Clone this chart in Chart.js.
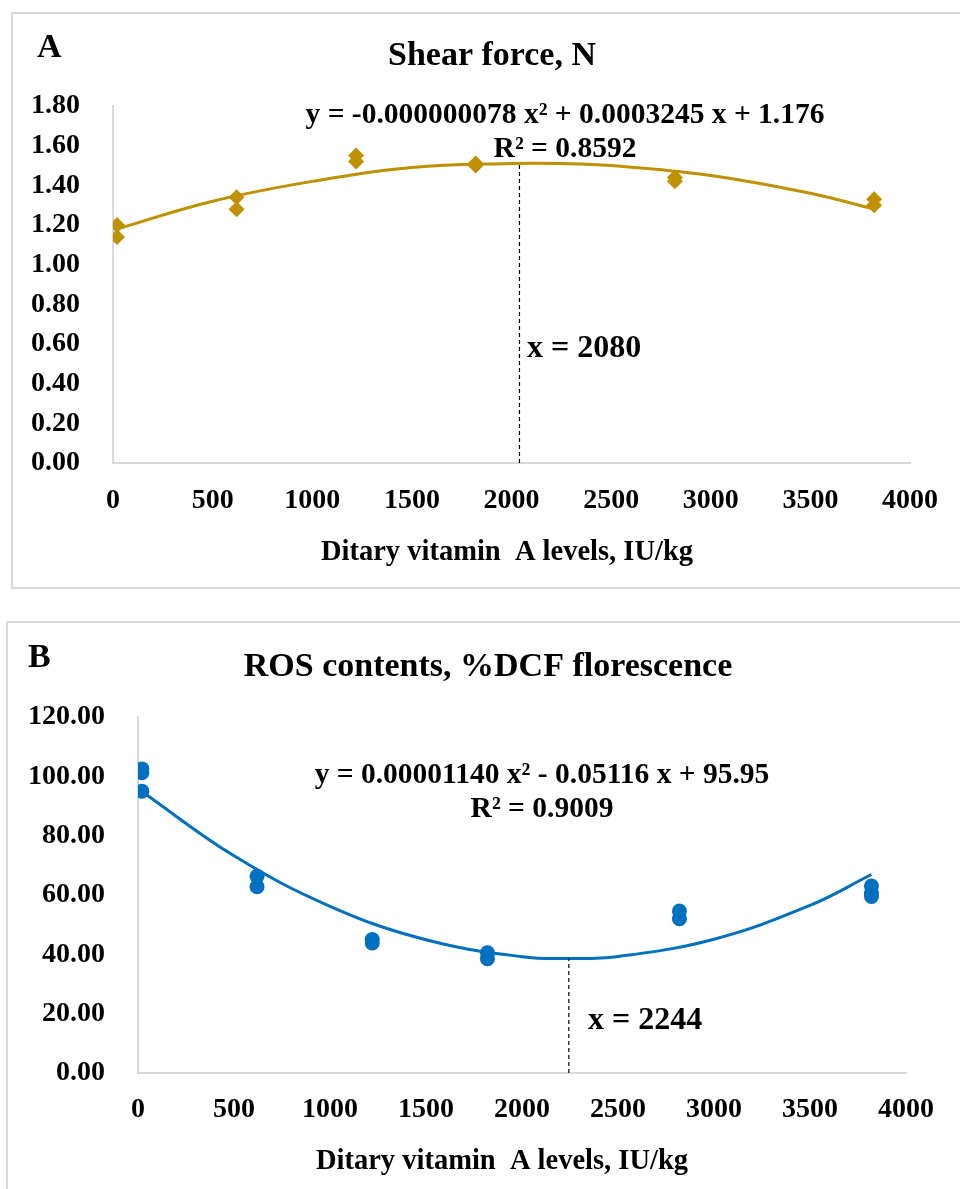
<!DOCTYPE html>
<html>
<head>
<meta charset="utf-8">
<script src="https://cdn.jsdelivr.net/npm/chart.js@4.4.1/dist/chart.umd.min.js"></script>
<style>
  html, body { margin: 0; padding: 0; background: #fff; }
  body { position: relative; width: 960px; height: 1189px; overflow: hidden; }
  .frame { position: absolute; border: 2px solid #d9d9d9; box-sizing: border-box; }
  canvas { position: absolute; left: 0; }
</style>
</head>
<body>
<div class="frame" style="left:11px;top:12px;width:960px;height:577px"></div>
<div class="frame" style="left:6px;top:621px;width:960px;height:600px"></div>
<canvas id="chartA" width="960" height="600" style="top:0"></canvas>
<canvas id="chartB" width="960" height="589" style="top:600px"></canvas>
<script>
// dietary vitamin A levels (IU/kg) and replicate values
const shearX = [20, 20, 620, 620, 1220, 1220, 1820, 1820, 2820, 2820, 3820, 3820];
const shearY = [1.20, 1.14, 1.34, 1.28, 1.55, 1.52, 1.51, 1.50, 1.44, 1.42, 1.33, 1.30];
const rosX = [20, 20, 20, 620, 620, 1220, 1220, 1820, 1820, 2820, 2820, 3820, 3820, 3820];
const rosY = [102.5, 101.2, 95.0, 66.3, 62.8, 45.0, 43.8, 40.5, 38.5, 54.6, 52.0, 63.0, 60.5, 59.5];

// quadratic trend lines
const trendX = [20, 500, 1000, 1500, 2000, 2250, 2500, 3000, 3500, 3820];
const shearTrend = [1.18, 1.32, 1.42, 1.49, 1.51, 1.51, 1.50, 1.45, 1.36, 1.28];
const rosTrend = [94.9, 73.2, 56.2, 44.9, 39.2, 38.6, 39.3, 45.1, 56.5, 66.9];

// optimum markers (dashed verticals)
const shearOpt = [2040, 1.51];
const rosOpt = [2244, 38.6];

// axes
const xTicks = [0, 500, 1000, 1500, 2000, 2500, 3000, 3500, 4000];
const shearTicks = [0, 0.2, 0.4, 0.6, 0.8, 1.0, 1.2, 1.4, 1.6, 1.8];
const rosTicks = [0, 20, 40, 60, 80, 100, 120];

const xTitle = "Ditary vitamin  A levels, IU/kg";

const SERIF = "'Times New Roman', 'Liberation Serif', serif";
const GOLD = "#BF9000";
const BLUE = "#0070C0";

// draws panel letter, title, equation and optimum labels
const notesPlugin = {
  id: "notes",
  afterDraw(chart, args, opts) {
    const ctx = chart.ctx;
    ctx.save();
    ctx.fillStyle = "#000";
    ctx.textBaseline = "alphabetic";
    opts.items.forEach(function (n) {
      ctx.font = "bold " + n.size + "px " + SERIF;
      ctx.textAlign = n.align || "center";
      ctx.fillText(n.text, n.x, n.y);
    });
    ctx.restore();
  },
};

function pts(xs, ys) {
  return xs.map(function (x, i) { return { x: x, y: ys[i] }; });
}

function makeChart(id, o) {
  const tickFont = { family: SERIF, size: 28, weight: "bold" };
  return new Chart(document.getElementById(id), {
    type: "scatter",
    data: {
      datasets: [
        {
          type: "line",
          data: [{ x: o.opt[0], y: 0 }, { x: o.opt[0], y: o.opt[1] }],
          borderColor: "#000",
          borderWidth: 1.2,
          borderDash: [4, 3],
          pointRadius: 0,
        },
        {
          type: "line",
          data: pts(trendX, o.trend),
          borderColor: o.color,
          borderWidth: 3,
          pointRadius: 0,
          tension: 0.4,
        },
        {
          data: pts(o.xs, o.ys),
          pointStyle: o.marker,
          pointRadius: o.radius,
          backgroundColor: o.color,
          borderColor: o.color,
          borderWidth: 0,
        },
      ],
    },
    options: {
      responsive: false,
      animation: false,
      devicePixelRatio: 1,
      layout: { padding: o.padding },
      plugins: {
        legend: { display: false },
        tooltip: { enabled: false },
        notes: { items: o.notes },
      },
      scales: {
        x: {
          min: 0,
          max: 4000,
          afterBuildTicks: function (s) { s.ticks = xTicks.map(function (v) { return { value: v }; }); },
          afterFit: function (s) { s.height = o.xHeight; },
          grid: { display: false, drawTicks: false },
          border: { display: true, color: "#d9d9d9", width: 2 },
          ticks: { color: "#000", font: tickFont, padding: o.xPad, maxRotation: 0, autoSkip: false,
                   callback: function (v) { return String(v); } },
        },
        y: {
          min: 0,
          max: o.yTicks[o.yTicks.length - 1],
          afterBuildTicks: function (s) { s.ticks = o.yTicks.map(function (v) { return { value: v }; }); },
          afterFit: function (s) { s.width = o.yWidth; },
          grid: { display: false, drawTicks: false },
          border: { display: true, color: "#d9d9d9", width: 2 },
          ticks: { color: "#000", font: tickFont, padding: 33,
                   callback: function (v) { return Number(v).toFixed(2); } },
        },
      },
    },
    plugins: [notesPlugin],
  });
}

makeChart("chartA", {
  xs: shearX, ys: shearY, trend: shearTrend, opt: shearOpt, yTicks: shearTicks,
  color: GOLD, marker: "rectRot", radius: 8,
  padding: { top: 106, right: 50, left: 0, bottom: 0 },
  yWidth: 113, xHeight: 137, xPad: 21,
  notes: [
    { text: "A", x: 37, y: 57, size: 34, align: "left" },
    { text: "Shear force, N", x: 492, y: 65, size: 34 },
    { text: "y = -0.000000078 x\u00b2 + 0.0003245 x + 1.176", x: 565, y: 123, size: 29.5 },
    { text: "R\u00b2 = 0.8592", x: 565, y: 157, size: 29.5 },
    { text: "x = 2080", x: 527, y: 357, size: 32, align: "left" },
    { text: xTitle, x: 507, y: 560, size: 28.5 },
  ],
});

makeChart("chartB", {
  xs: rosX, ys: rosY, trend: rosTrend, opt: rosOpt, yTicks: rosTicks,
  color: BLUE, marker: "circle", radius: 7.5,
  padding: { top: 117, right: 54, left: 0, bottom: 0 },
  yWidth: 138, xHeight: 116, xPad: 20,
  notes: [
    { text: "B", x: 28, y: 67, size: 34, align: "left" },
    { text: "ROS contents, %DCF florescence", x: 488, y: 76, size: 34 },
    { text: "y = 0.00001140 x\u00b2 - 0.05116 x + 95.95", x: 542, y: 183, size: 29.5 },
    { text: "R\u00b2 = 0.9009", x: 542, y: 217, size: 29.5 },
    { text: "x = 2244", x: 588, y: 429, size: 32, align: "left" },
    { text: xTitle, x: 502, y: 569, size: 28.5 },
  ],
});
</script>
</body>
</html>
